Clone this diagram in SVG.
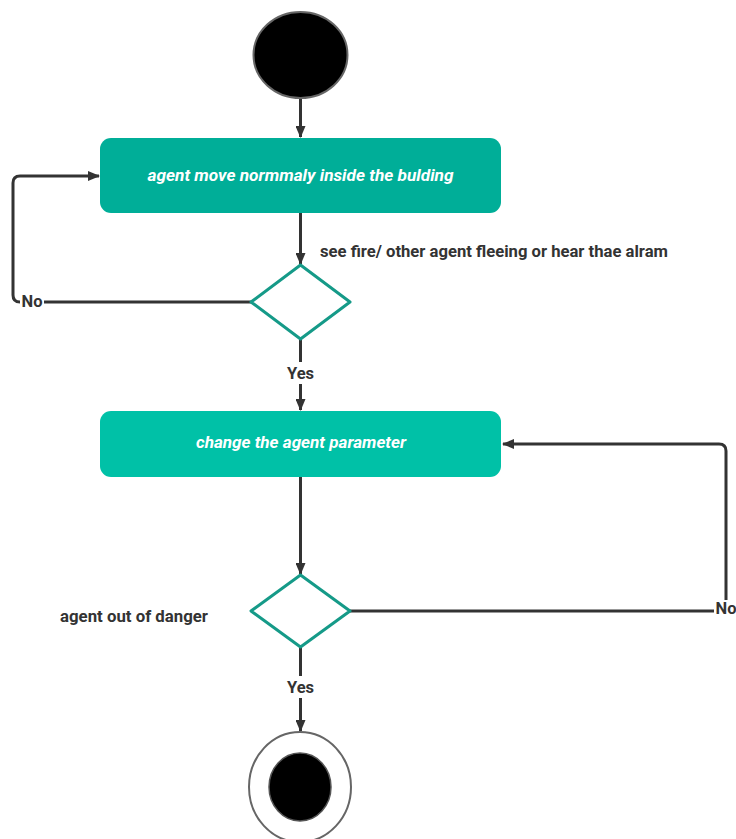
<svg xmlns="http://www.w3.org/2000/svg" width="736" height="839" viewBox="0 0 736 839">
<style>
.ln{fill:none;stroke:#333;stroke-width:3;stroke-linejoin:round}
.lbl{font-family:Roboto,"Liberation Sans",sans-serif;font-weight:bold;font-size:16.5px;fill:#333}
.btxt{font-family:Roboto,"Liberation Sans",sans-serif;font-weight:bold;font-style:italic;font-size:17px;fill:#fff}
.dia{fill:#fff;stroke:#159a88;stroke-width:3;stroke-linejoin:round}
</style>
<defs>
<marker id="ah" markerWidth="12" markerHeight="10" refX="11" refY="5" orient="auto" markerUnits="userSpaceOnUse">
<path d="M0,0 L12,5 L0,10 z" fill="#333"/>
</marker>
</defs>
<g id="connectors">
<path class="ln" d="M300.5,98 V137" marker-end="url(#ah)"/>
<path class="ln" d="M300.5,213 V264" marker-end="url(#ah)"/>
<path class="ln" d="M251,302 H44"/>
<path class="ln" d="M20,302 Q13,302 13,295 V183 Q13,176 20,176 H99" marker-end="url(#ah)"/>
<path class="ln" d="M300.5,339 V362"/>
<path class="ln" d="M300.5,384 V410" marker-end="url(#ah)"/>
<path class="ln" d="M300.5,477 V574" marker-end="url(#ah)"/>
<path class="ln" d="M350,611 H714"/>
<path class="ln" d="M726,600 V451 Q726,444 719,444 H503" marker-end="url(#ah)"/>
<path class="ln" d="M300.5,647 V676"/>
<path class="ln" d="M300.5,698 V731" marker-end="url(#ah)"/>
<text class="lbl" x="32" y="307" text-anchor="middle">No</text>
<text class="lbl" x="300.5" y="379" text-anchor="middle">Yes</text>
<text class="lbl" x="726" y="614" text-anchor="middle">No</text>
<text class="lbl" x="300.5" y="693" text-anchor="middle">Yes</text>
</g>
<g id="start">
<ellipse cx="300.5" cy="55" rx="47" ry="43" fill="#000" stroke="#666" stroke-width="2"/>
</g>
<g id="move">
<rect x="100" y="138" width="401" height="75" rx="11" fill="#00ae98"/>
<text class="btxt" x="300.5" y="181" text-anchor="middle" textLength="306" lengthAdjust="spacingAndGlyphs">agent move normmaly inside the bulding</text>
</g>
<g id="decision1">
<path class="dia" d="M300.5,265 L350,302 L300.5,339 L251,302 z"/>
<text class="lbl" x="320" y="257" textLength="348" lengthAdjust="spacingAndGlyphs">see fire/ other agent fleeing or hear thae alram</text>
</g>
<g id="change">
<rect x="100" y="411" width="401" height="66" rx="11" fill="#00c1a7"/>
<text class="btxt" x="301" y="448" text-anchor="middle" textLength="210" lengthAdjust="spacingAndGlyphs">change the agent parameter</text>
</g>
<g id="decision2">
<path class="dia" d="M300.5,575 L350,611 L300.5,647 L251,611 z"/>
<text class="lbl" x="60" y="622" textLength="148" lengthAdjust="spacingAndGlyphs">agent out of danger</text>
</g>
<g id="end">
<ellipse cx="300" cy="787" rx="51" ry="55" fill="#fff" stroke="#666" stroke-width="2"/>
<ellipse cx="300" cy="787" rx="31" ry="34" fill="#000" stroke="#555" stroke-width="1.5"/>
</g>
</svg>
